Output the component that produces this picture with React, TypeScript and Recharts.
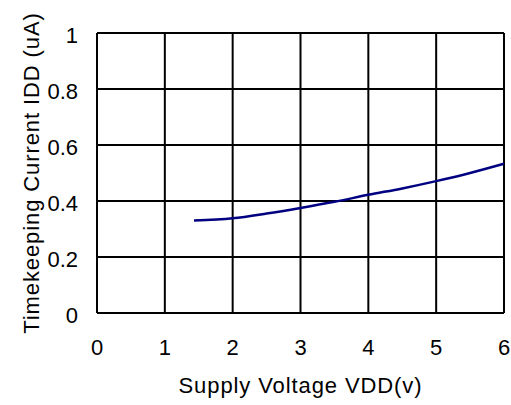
import { CartesianGrid, Line, LineChart, XAxis, YAxis } from 'recharts';

const voltage = [1.43, 2, 2.5, 3, 3.5, 4, 4.5, 5, 5.5, 6];
const current = [0.33, 0.338, 0.355, 0.375, 0.397, 0.422, 0.445, 0.471, 0.5, 0.533];

const xTicks = [0, 1, 2, 3, 4, 5, 6];
const yTicks = [0, 0.2, 0.4, 0.6, 0.8, 1];

const FONT = '"Liberation Sans", Arial, sans-serif';

const data = voltage.map((v, i) => ({ v, idd: current[i] }));

const App = () => {
    return (
        <div style={{ position: 'absolute', left: 0, top: 0, background: '#fff' }}>
            <LineChart
                width={511}
                height={405}
                data={data}
                margin={{ top: 33, right: 7, bottom: 0, left: 0 }}
                style={{ fontFamily: FONT }}
            >
                <CartesianGrid stroke="#000" strokeWidth={2} />
                <XAxis
                    dataKey="v"
                    type="number"
                    domain={[0, 6]}
                    ticks={xTicks}
                    height={92}
                    tickSize={0}
                    tickMargin={26}
                    axisLine={{ stroke: '#000', strokeWidth: 2 }}
                    tick={{ fill: '#000', fontSize: 22 }}
                    label={({ viewBox }: any) => (
                        <text
                            x={viewBox.x + viewBox.width / 2}
                            y={393}
                            textAnchor="middle"
                            fontSize={22}
                            letterSpacing={0.9}
                            fill="#000"
                        >
                            Supply Voltage VDD(v)
                        </text>
                    )}
                />
                <YAxis
                    type="number"
                    domain={[0, 1]}
                    ticks={yTicks}
                    width={97}
                    tickSize={0}
                    tickMargin={19}
                    axisLine={{ stroke: '#000', strokeWidth: 2 }}
                    tick={{ fill: '#000', fontSize: 22, dy: 2 }}
                    label={({ viewBox }: any) => (
                        <text
                            x={39}
                            y={viewBox.y + viewBox.height / 2}
                            transform={`rotate(-90 39 ${viewBox.y + viewBox.height / 2})`}
                            textAnchor="middle"
                            fontSize={22}
                            letterSpacing={0.9}
                            fill="#000"
                        >
                            Timekeeping Current IDD (uA)
                        </text>
                    )}
                />
                <Line
                    type="monotone"
                    dataKey="idd"
                    stroke="#000080"
                    strokeWidth={2.5}
                    dot={false}
                    isAnimationActive={false}
                />
            </LineChart>
        </div>
    );
};

export default App;
